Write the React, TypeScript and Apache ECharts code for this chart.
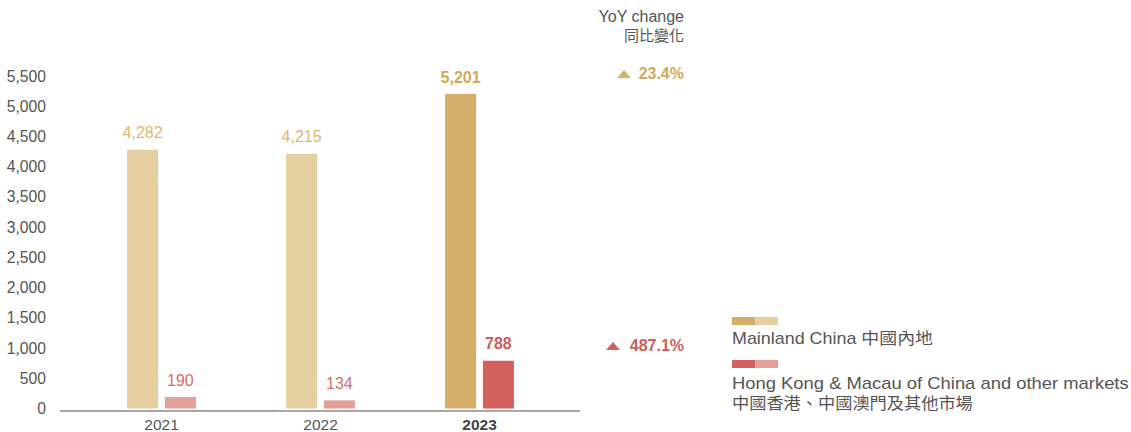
import React, { useEffect, useRef } from "react";
import * as echarts from "echarts";

const years = ["2021", "2022", "2023"];
const mainland = [4282, 4215, 5201];
const hkMacau = [190, 134, 788];
const yoyMainland = "23.4%";
const yoyHk = "487.1%";
const yTicks = { min: 0, max: 5500, interval: 500 };

const FONT = '"Liberation Sans", Arial, "Noto Sans CJK TC", sans-serif';
const GOLD_LIGHT = "#e6cfa1";
const GOLD = "#d5af69";
const RED_LIGHT = "#e3a098";
const RED = "#d2605c";

export default function App() {
  const ref = useRef<HTMLDivElement>(null);
  useEffect(() => {
    document.body.style.margin = "0";
    const chart = echarts.init(ref.current!, null, { renderer: "svg" });
    const fmt = (v: number) => v.toLocaleString("en-US");
    const mkData = (vals: number[], light: string, dark: string, lightLbl: string, darkLbl: string) =>
      vals.map((v, i) => {
        const last = i === vals.length - 1;
        return {
          value: v,
          itemStyle: { color: last ? dark : light },
          label: {
            color: last ? darkLbl : lightLbl,
            fontWeight: last ? "bold" : "normal",
          },
        };
      });
    const legendText = (text: string, x: number, y: number, sx: number) => ({
      type: "text",
      x,
      y,
      scaleX: sx,
      originX: 0,
      style: { text, font: `16px ${FONT}`, fill: "#555", textVerticalAlign: "middle" },
    });
    chart.setOption({
      animation: false,
      textStyle: { fontFamily: FONT },
      grid: { left: 82, top: 76, width: 477, height: 335, containLabel: false },
      xAxis: {
        type: "category",
        data: years,
        axisLine: { show: false },
        axisTick: { show: false },
        axisLabel: {
          fontFamily: FONT,
          fontSize: 15.5,
          color: "#555",
          margin: 8,
          formatter: (v: string) => (v === "2023" ? `{b|${v}}` : v),
          rich: { b: { fontWeight: "bold", fontSize: 15.5, color: "#444", fontFamily: FONT } },
        },
      },
      yAxis: {
        type: "value",
        min: yTicks.min,
        max: yTicks.max,
        interval: yTicks.interval,
        splitLine: { show: false },
        axisLine: { show: false },
        axisTick: { show: false },
        axisLabel: {
          fontFamily: FONT,
          fontSize: 15.7,
          color: "#555",
          margin: 36,
          formatter: (v: number) => fmt(v),
        },
      },
      series: [
        {
          type: "bar",
          name: "Mainland China 中國內地",
          data: mkData(mainland, GOLD_LIGHT, GOLD, "#e0b86b", "#d4a85a"),
          barWidth: 31,
          barGap: "22%",
          label: {
            show: true,
            position: "top",
            distance: 9,
            fontSize: 16,
            fontFamily: FONT,
            formatter: (p: any) => fmt(p.value),
          },
        },
        {
          type: "bar",
          name: "Hong Kong & Macau of China and other markets",
          data: mkData(hkMacau, RED_LIGHT, RED, "#e06a66", "#d05c5a"),
          barWidth: 31,
          label: {
            show: true,
            position: "top",
            distance: 9,
            fontSize: 16,
            fontFamily: FONT,
            formatter: (p: any) => fmt(p.value),
          },
        },
      ],
      graphic: [
        { type: "line", shape: { x1: 60, y1: 411, x2: 580, y2: 411 }, style: { stroke: "#8a8a8a", lineWidth: 1.5 } },
        {
          type: "text", x: 684, y: 16,
          style: { text: "YoY change", font: `16px ${FONT}`, fill: "#555", textAlign: "right", textVerticalAlign: "middle" },
        },
        {
          type: "text", x: 684, y: 35,
          style: { text: "同比變化", font: `15px ${FONT}`, fill: "#555", textAlign: "right", textVerticalAlign: "middle" },
        },
        { type: "polygon", shape: { points: [[617, 78], [631, 78], [624, 70]] }, style: { fill: GOLD } },
        {
          type: "text", x: 684, y: 73,
          style: { text: yoyMainland, font: `bold 16px ${FONT}`, fill: "#d4a85a", textAlign: "right", textVerticalAlign: "middle" },
        },
        { type: "polygon", shape: { points: [[606, 350], [620, 350], [613, 342]] }, style: { fill: RED } },
        {
          type: "text", x: 684, y: 345,
          style: { text: yoyHk, font: `bold 16px ${FONT}`, fill: "#d05c5a", textAlign: "right", textVerticalAlign: "middle" },
        },
        { type: "rect", shape: { x: 732, y: 317, width: 23, height: 8 }, style: { fill: GOLD } },
        { type: "rect", shape: { x: 755, y: 317, width: 23, height: 8 }, style: { fill: GOLD_LIGHT } },
        legendText("Mainland China 中國內地", 732, 339, 1.12),
        { type: "rect", shape: { x: 732, y: 360, width: 23, height: 8 }, style: { fill: RED } },
        { type: "rect", shape: { x: 755, y: 360, width: 23, height: 8 }, style: { fill: RED_LIGHT } },
        legendText("Hong Kong & Macau of China and other markets", 732, 383, 1.15),
        legendText("中國香港、中國澳門及其他市場", 732, 404, 1.075),
      ],
    });
    return () => chart.dispose();
  }, []);
  return <div ref={ref} style={{ width: 1131, height: 432 }} />;
}
